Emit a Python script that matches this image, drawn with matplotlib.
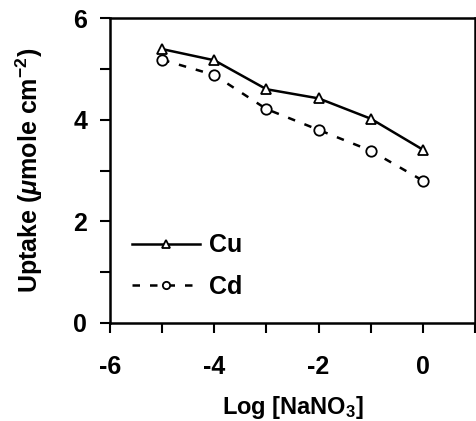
import numpy as np
import matplotlib
matplotlib.use('Agg')
import matplotlib.pyplot as plt
from matplotlib.ticker import MultipleLocator

plt.rcParams['font.family'] = ['Liberation Sans', 'DejaVu Sans']
plt.rcParams['font.weight'] = 'bold'
plt.rcParams['axes.unicode_minus'] = False
plt.rcParams['mathtext.fontset'] = 'custom'
plt.rcParams['mathtext.rm'] = 'Liberation Sans:bold'
plt.rcParams['mathtext.it'] = 'Liberation Sans:italic:bold'

log_nano3 = [-5, -4, -3, -2, -1, 0]
cu_uptake = [5.39, 5.17, 4.60, 4.42, 4.02, 3.41]
cd_uptake = [5.18, 4.88, 4.21, 3.80, 3.39, 2.80]

fig = plt.figure(figsize=(4.76, 4.21), dpi=100)
ax = fig.add_axes([0.231, 0.233, 0.767, 0.724])

ax.plot(log_nano3, cu_uptake, color='black', lw=1.8, marker='^', ms=7.5,
        mfc='white', mec='black', mew=1.3, label='Cu')
ax.plot(log_nano3, cd_uptake, color='black', lw=1.8, ls=(0, (3, 4)), marker='o', ms=7.5,
        mfc='white', mec='black', mew=1.3, label='Cd')

ax.set_xlim(-6, 1)
ax.set_ylim(0, 6)
ax.xaxis.set_major_locator(MultipleLocator(2))
ax.xaxis.set_minor_locator(MultipleLocator(1))
ax.yaxis.set_major_locator(MultipleLocator(2))
ax.yaxis.set_minor_locator(MultipleLocator(1))
ax.tick_params(which='both', direction='out', width=1.5, length=7, labelsize=18)
ax.tick_params(axis='x', pad=16)
ax.tick_params(axis='y', pad=9.5)
for sp in ax.spines.values():
    sp.set_linewidth(1.8)

ax.set_xlabel('Log [NaNO$_3$]', fontsize=17, fontweight='bold', labelpad=11)
ax.set_ylabel('Uptake ($\\mu$mole cm$^{-2}$)', fontsize=18, fontweight='bold', labelpad=20)

leg = ax.legend(loc='lower left', bbox_to_anchor=(0.0, 0.005), frameon=False,
                fontsize=18, handlelength=2.7, markerscale=0.7, handletextpad=0.35,
                labelspacing=0.7)

fig.savefig('out.png', dpi=100)
